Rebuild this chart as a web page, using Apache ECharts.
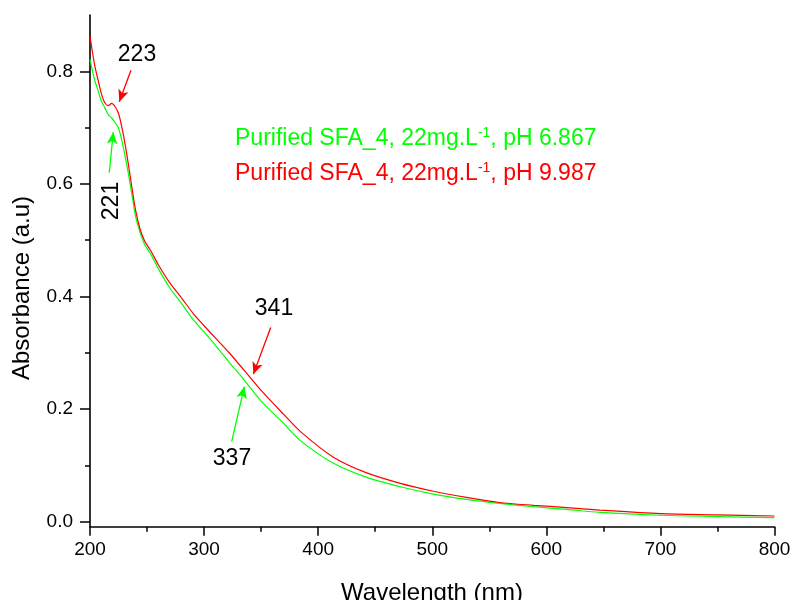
<!DOCTYPE html>
<html>
<head>
<meta charset="utf-8">
<script src="https://cdn.jsdelivr.net/npm/echarts@6/dist/echarts.min.js"></script>
<style>
html,body{margin:0;padding:0;background:#fff;}
#chart{width:792px;height:600px;}
</style>
</head>
<body>
<div id="chart"></div>
<script>
// ---- data ----
const wavelengths = [200, 202, 204, 207, 210, 213, 216, 219, 222, 225, 228, 231, 234, 237, 240, 244, 248, 253, 260, 270, 280, 290, 300, 310, 322, 335, 350, 370, 385, 413, 442, 472, 501, 530, 559, 589, 618, 647, 700, 750, 800];
const absPH9987 = [0.862, 0.836, 0.812, 0.785, 0.760, 0.744, 0.739, 0.743, 0.737, 0.725, 0.700, 0.668, 0.630, 0.590, 0.553, 0.519, 0.498, 0.482, 0.456, 0.424, 0.398, 0.371, 0.348, 0.326, 0.300, 0.269, 0.233, 0.190, 0.159, 0.115, 0.087, 0.068, 0.054, 0.043, 0.034, 0.029, 0.025, 0.0206, 0.0142, 0.012, 0.010];
const absPH6867 = [0.821, 0.802, 0.785, 0.766, 0.747, 0.735, 0.723, 0.717, 0.709, 0.699, 0.676, 0.647, 0.614, 0.578, 0.542, 0.513, 0.492, 0.476, 0.449, 0.415, 0.388, 0.360, 0.337, 0.313, 0.283, 0.252, 0.214, 0.174, 0.143, 0.104, 0.079, 0.062, 0.049, 0.0396, 0.0325, 0.0265, 0.0218, 0.0165, 0.0113, 0.009, 0.007];
const xTickLabels = [200, 300, 400, 500, 600, 700, 800];
const yTickLabels = [0.0, 0.2, 0.4, 0.6, 0.8];
const yMinorTicks = [0.1, 0.3, 0.5, 0.7];
const seriesNames = ['Purified SFA_4, 22mg.L-1, pH 6.867', 'Purified SFA_4, 22mg.L-1, pH 9.987'];
const peakLabels = ['221', '223', '337', '341'];

const FONT = '"Liberation Sans", Arial, sans-serif';
const GREEN = '#00ff00';
const RED = '#ff0000';

const pairs = (ys) => wavelengths.map((w, i) => [w, ys[i]]);

const arrowStyle = (color) => ({
  silent: true,
  symbol: ['none', 'arrow'],
  symbolSize: [8, 12],
  label: {show: false},
  lineStyle: {color: color, width: 1.3, type: 'solid'},
  animation: false
});

const chart = echarts.init(document.getElementById('chart'), null, {renderer: 'canvas'});
const option = {
  animation: false,
  backgroundColor: '#fff',
  grid: {left: 90, right: 17.5, top: 15, bottom: 73.3, containLabel: false, outerBoundsMode: 'none'},
  xAxis: {
    type: 'value', min: 200, max: 800, interval: 100,
    axisLine: {onZero: false, lineStyle: {color: '#000', width: 1.6}},
    axisTick: {length: 9, lineStyle: {color: '#000', width: 1.5}},
    minorTick: {show: true, splitNumber: 2, length: 5, lineStyle: {color: '#000', width: 1.5}},
    axisLabel: {
      color: '#000', fontSize: 19, fontFamily: FONT, margin: 14,
      customValues: xTickLabels,
      formatter: (v) => String(v)
    },
    splitLine: {show: false}
  },
  yAxis: [{
    type: 'value', min: -0.009, max: 0.9,
    axisLine: {show: true, onZero: false, lineStyle: {color: '#000', width: 1.6}},
    axisTick: {show: true, length: 10, customValues: yTickLabels, lineStyle: {color: '#000', width: 1.5}},
    axisLabel: {
      color: '#000', fontSize: 19, fontFamily: FONT, margin: 17,
      customValues: yTickLabels,
      formatter: (v) => v.toFixed(1)
    },
    splitLine: {show: false}
  }, {
    type: 'value', min: -0.009, max: 0.9, position: 'left',
    axisLine: {show: false, onZero: false},
    axisTick: {show: true, length: 5, customValues: yMinorTicks, lineStyle: {color: '#000', width: 1.5}},
    axisLabel: {show: false},
    splitLine: {show: false}
  }],
  series: [{
    name: seriesNames[0], type: 'line', data: pairs(absPH6867),
    showSymbol: false, smooth: 0.3, yAxisIndex: 0,
    lineStyle: {color: GREEN, width: 1.2}, itemStyle: {color: GREEN},
    markLine: Object.assign(arrowStyle(GREEN), {
      data: [
        [{coord: [216.9, 0.620]}, {coord: [220.4, 0.692]}],
        [{coord: [324.2, 0.142]}, {coord: [335.3, 0.240]}]
      ]
    })
  }, {
    name: seriesNames[1], type: 'line', data: pairs(absPH9987),
    showSymbol: false, smooth: 0.3, yAxisIndex: 0,
    lineStyle: {color: RED, width: 1.2}, itemStyle: {color: RED},
    markLine: Object.assign(arrowStyle(RED), {
      data: [
        [{coord: [235.9, 0.802]}, {coord: [225.7, 0.746]}],
        [{coord: [358.4, 0.345]}, {coord: [343.2, 0.262]}]
      ]
    })
  }],
  graphic: [
    {type: 'text', x: 22, y: 288, rotation: Math.PI / 2,
      style: {text: 'Absorbance (a.u)', fill: '#000', font: '24px ' + FONT, align: 'center', verticalAlign: 'middle'}},
    {type: 'text', x: 432, y: 593,
      style: {text: 'Wavelength (nm)', fill: '#000', font: '24px ' + FONT, align: 'center', verticalAlign: 'middle'}},
    {type: 'text', x: 137, y: 55,
      style: {text: peakLabels[1], fill: '#000', font: '23px ' + FONT, align: 'center', verticalAlign: 'middle'}},
    {type: 'text', x: 112, y: 201, rotation: Math.PI / 2,
      style: {text: peakLabels[0], fill: '#000', font: '23px ' + FONT, align: 'center', verticalAlign: 'middle'}},
    {type: 'text', x: 274, y: 309,
      style: {text: peakLabels[3], fill: '#000', font: '23px ' + FONT, align: 'center', verticalAlign: 'middle'}},
    {type: 'text', x: 232, y: 459,
      style: {text: peakLabels[2], fill: '#000', font: '23px ' + FONT, align: 'center', verticalAlign: 'middle'}},
    {type: 'text', x: 235, y: 139,
      style: {
        text: '{a|Purified SFA_4, 22mg.L}{s|-1}{a|, pH 6.867}',
        align: 'left', verticalAlign: 'middle',
        rich: {
          a: {fill: GREEN, fontSize: 23, fontFamily: FONT, lineHeight: 26},
          s: {fill: GREEN, fontSize: 14, fontFamily: FONT, lineHeight: 14, verticalAlign: 'top'}
        }
      }},
    {type: 'text', x: 235, y: 174,
      style: {
        text: '{a|Purified SFA_4, 22mg.L}{s|-1}{a|, pH 9.987}',
        align: 'left', verticalAlign: 'middle',
        rich: {
          a: {fill: RED, fontSize: 23, fontFamily: FONT, lineHeight: 26},
          s: {fill: RED, fontSize: 14, fontFamily: FONT, lineHeight: 14, verticalAlign: 'top'}
        }
      }}
  ]
};
chart.setOption(option);
</script>
</body>
</html>
